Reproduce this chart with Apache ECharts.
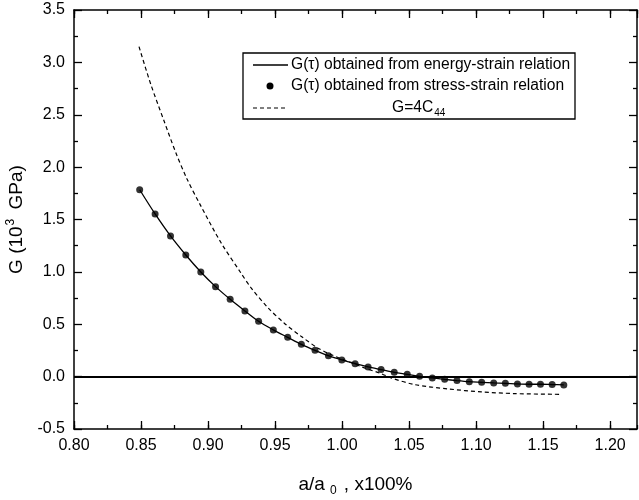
<!DOCTYPE html>
<html>
<head>
<meta charset="utf-8">
<script src="https://cdn.jsdelivr.net/npm/echarts@6.0.0/dist/echarts.min.js"></script>
<style>
  html, body { margin: 0; padding: 0; background: #fff; }
  #chart { width: 639px; height: 500px; }
</style>
</head>
<body>
<div id="chart"></div>
<script>
// a/a0 of the computed points
var aRatio = [0.849, 0.8605, 0.872, 0.8834, 0.8946, 0.9056, 0.9165, 0.9275, 0.9377, 0.9487,
    0.9594, 0.9696, 0.9798, 0.9898, 0.9998, 1.0097, 1.0194, 1.0291, 1.0389, 1.0486,
    1.0578, 1.0673, 1.0765, 1.0857, 1.0949, 1.1041, 1.1131, 1.1218, 1.1308, 1.1395,
    1.1480, 1.1567, 1.1654];
// G from stress-strain (dots) - energy-strain curve runs through the same points
var gStress = [1.784, 1.553, 1.343, 1.161, 0.999, 0.859, 0.738, 0.627, 0.528, 0.446,
    0.375, 0.308, 0.251, 0.200, 0.159, 0.124, 0.093, 0.067, 0.041, 0.022,
    0.003, -0.012, -0.026, -0.038, -0.048, -0.054, -0.060, -0.064, -0.070, -0.073,
    -0.073, -0.076, -0.079];
var gEnergy = gStress;
// G = 4C44 (dashed)
var aDash = [0.8485, 0.8573, 0.8672, 0.8759, 0.8842, 0.8946, 0.9096, 0.9245, 0.932, 0.9445,
    0.9569, 0.9694, 0.9818, 0.9918, 1.0167, 1.0291, 1.0366, 1.054, 1.079, 1.1039,
    1.1288, 1.1624];
var g4C44 = [3.15, 2.79, 2.44, 2.14, 1.89, 1.63, 1.28, 0.99, 0.85, 0.66,
    0.51, 0.385, 0.274, 0.21, 0.083, 0.029, -0.012, -0.076, -0.117, -0.146,
    -0.162, -0.169];

var xMin = 0.80, xMax = 1.22;
var yMin = -0.5, yMax = 3.5;
var legendNames = ['G(\u03c4) obtained from energy-strain relation',
    'G(\u03c4) obtained from stress-strain relation', 'G=4C', '44'];

var font = 'Liberation Sans, Arial, sans-serif';

function pairs(xs, ys) {
    var out = [];
    for (var i = 0; i < xs.length; i++) out.push([xs[i], ys[i]]);
    return out;
}

function xAx(pos, step, len, labels, line) {
    return {
        type: 'value', position: pos, min: xMin, max: xMax, interval: step,
        axisLine: { show: line, onZero: false, lineStyle: { color: '#000', width: 1.5 } },
        axisTick: { show: true, inside: true, length: len, lineStyle: { color: '#000', width: 1.3 } },
        axisLabel: {
            show: labels, showMaxLabel: false, margin: 9, color: '#000', fontSize: 16, fontFamily: font,
            formatter: function (v) { return v.toFixed(2); }
        },
        splitLine: { show: false }
    };
}

function yAx(pos, labels) {
    return {
        type: 'value', position: pos, min: yMin, max: yMax, interval: 0.5,
        axisLine: { show: true, onZero: false, lineStyle: { color: '#000', width: 1.5 } },
        axisTick: { show: true, inside: true, length: 8, lineStyle: { color: '#000', width: 1.3 } },
        minorTick: { show: true, splitNumber: 2, length: 4, lineStyle: { color: '#000', width: 1.3 } },
        axisLabel: {
            show: labels, margin: 9, color: '#000', fontSize: 16, fontFamily: font,
            formatter: function (v) { return v.toFixed(1); }
        },
        splitLine: { show: false }
    };
}

var xAxes = [
    xAx('bottom', 0.05, 8, true, true),
    xAx('bottom', 0.025, 4, false, false),
    xAx('top', 0.05, 8, false, true),
    xAx('top', 0.025, 4, false, false)
];
xAxes[0].name = '{t|a/a}{s|0}{t| , x100%}';
xAxes[0].nameLocation = 'middle';
xAxes[0].nameGap = 43;
xAxes[0].nameTextStyle = {
    rich: {
        t: { fontSize: 19, fontFamily: font, color: '#000' },
        s: { fontSize: 12, fontFamily: font, color: '#000', padding: [13, 2, 0, 5] }
    }
};

var yAxes = [yAx('left', true), yAx('right', false)];
yAxes[0].name = '{t|G (10}{s|3}{t| GPa)}';
yAxes[0].nameLocation = 'middle';
yAxes[0].nameGap = 38;
yAxes[0].nameTextStyle = {
    rich: {
        t: { fontSize: 19, fontFamily: font, color: '#000' },
        s: { fontSize: 12, fontFamily: font, color: '#000', padding: [0, 4, 13, 1] }
    }
};

var lx = 243, ly = 53;
var option = {
    animation: false,
    backgroundColor: '#fff',
    grid: { left: 74, right: 2, top: 10, bottom: 71, outerBoundsMode: 'none', containLabel: false },
    xAxis: xAxes,
    yAxis: yAxes,
    series: [
        {
            name: legendNames[0], type: 'line', data: pairs(aRatio, gEnergy),
            smooth: 0.3, showSymbol: false, z: 3,
            lineStyle: { color: '#000', width: 1.3 },
            markLine: {
                silent: true, symbol: ['none', 'none'], label: { show: false },
                lineStyle: { color: '#000', width: 2.2, type: 'solid' },
                data: [{ yAxis: 0 }]
            }
        },
        {
            name: legendNames[1], type: 'scatter', data: pairs(aRatio, gStress),
            symbol: 'circle', symbolSize: 7, z: 4,
            itemStyle: { color: '#000' }
        },
        {
            name: 'G=4C44', type: 'line', data: pairs(aDash, g4C44),
            smooth: 0.3, showSymbol: false, z: 2,
            lineStyle: { color: '#000', width: 1.2, type: [4, 3] }
        }
    ],
    graphic: [
        { type: 'rect', shape: { x: lx, y: ly, width: 332, height: 66 },
          style: { fill: '#fff', stroke: '#000', lineWidth: 1.3 }, z: 10 },
        { type: 'line', shape: { x1: lx + 10, y1: ly + 12, x2: lx + 45, y2: ly + 12 },
          style: { stroke: '#000', lineWidth: 1.3 }, z: 11 },
        { type: 'circle', shape: { cx: lx + 27, cy: ly + 33, r: 3.5 },
          style: { fill: '#000' }, z: 11 },
        { type: 'line', shape: { x1: lx + 10, y1: ly + 55, x2: lx + 45, y2: ly + 55 },
          style: { stroke: '#000', lineWidth: 1.2, lineDash: [4, 3] }, z: 11 },
        { type: 'text', x: lx + 48, y: ly + 12, z: 11,
          style: { text: legendNames[0], fontSize: 15.6, fontFamily: font, fill: '#000', verticalAlign: 'middle' } },
        { type: 'text', x: lx + 48, y: ly + 33, z: 11,
          style: { text: legendNames[1], fontSize: 15.6, fontFamily: font, fill: '#000', verticalAlign: 'middle' } },
        { type: 'text', x: lx + 149, y: ly + 55, z: 11,
          style: {
              text: '{t|' + legendNames[2] + '}{s|' + legendNames[3] + '}', verticalAlign: 'middle',
              rich: {
                  t: { fontSize: 15.6, fontFamily: font, fill: '#000' },
                  s: { fontSize: 10, fontFamily: font, fill: '#000', padding: [10, 0, 0, 1] }
              }
          } }
    ]
};

var myChart = echarts.init(document.getElementById('chart'));
myChart.setOption(option);
</script>
</body>
</html>
